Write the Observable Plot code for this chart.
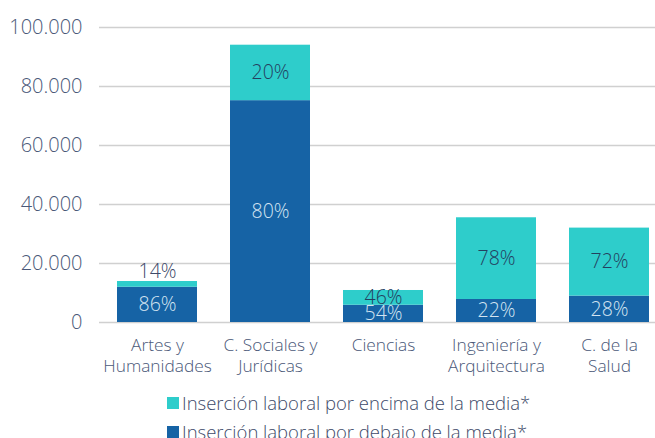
<!DOCTYPE html>
<html>
<head>
<meta charset="utf-8">
<script src="https://cdn.jsdelivr.net/npm/d3@7"></script>
<script src="https://cdn.jsdelivr.net/npm/@observablehq/plot@0.6"></script>
<style>
  html, body { margin: 0; padding: 0; background: #fff; }
  body { width: 655px; font-family: "Open Sans", sans-serif; font-weight: 300; }
  #legend { margin-left: 167px; margin-top: 8px; color: #3d4a69; font-size: 18.5px; }
  .row { display: flex; align-items: center; height: 29px; }
  .sw { width: 12px; height: 12px; margin-right: 3px; }
</style>
</head>
<body>
<div id="chart"></div>
<div id="legend"></div>
<script>
const categories = ["Artes y Humanidades", "C. Sociales y Jurídicas", "Ciencias", "Ingeniería y Arquitectura", "C. de la Salud"];
const tickLabels = ["Artes y\nHumanidades", "C. Sociales y\nJurídicas", "Ciencias", "Ingeniería y\nArquitectura", "C. de la\nSalud"];
const seriesNames = ["Inserción laboral por debajo de la media*", "Inserción laboral por encima de la media*"];
const below = [11950, 75200, 5850, 7800, 8950];
const above = [1950, 18800, 5000, 27700, 23050];
const pctBelow = [86, 80, 54, 22, 28];
const pctAbove = [14, 20, 46, 78, 72];
const yTicks = [0, 20000, 40000, 60000, 80000, 100000];
const colors = ["#1663a5", "#2ecdcb"];

const rows = [];
categories.forEach((c, i) => rows.push({cat: c, series: seriesNames[0], value: below[i]}));
categories.forEach((c, i) => rows.push({cat: c, series: seriesNames[1], value: above[i]}));

const labelsIn = [];
categories.forEach((c, i) => {
  labelsIn.push({cat: c, y: below[i] / 2, text: pctBelow[i] + "%", light: true});
  if (above[i] > 4000) labelsIn.push({cat: c, y: below[i] + above[i] / 2, text: pctAbove[i] + "%", light: false});
});
const labelsOut = [];
categories.forEach((c, i) => {
  if (above[i] <= 4000) labelsOut.push({cat: c, y: below[i] + above[i], text: pctAbove[i] + "%"});
});

const fmt = d => d3.format(",")(d).replace(/,/g, ".");
const tickMap = new Map(categories.map((c, i) => [c, tickLabels[i]]));

const chart = Plot.plot({
  width: 655,
  height: 380,
  marginLeft: 99,
  marginRight: 0,
  marginTop: 27,
  marginBottom: 58,
  style: {fontFamily: "'Open Sans', sans-serif", fontSize: "17px", fontWeight: 300, overflow: "hidden"},
  x: {domain: categories, range: [99, 667], paddingInner: 0.295, paddingOuter: 0.15, label: null},
  y: {domain: [0, 100000], range: [322, 27], label: null},
  color: {domain: seriesNames, range: colors},
  marks: [
    Plot.ruleY(yTicks, {stroke: "#d0d0d0", strokeWidth: 1.3}),
    Plot.barY(rows, {x: "cat", y: "value", fill: "series"}),
    Plot.text(labelsIn, {x: "cat", y: "y", text: "text", fill: d => d.light ? "#d3e4f1" : "#24405f", fontSize: 19.5, fontWeight: 300}),
    Plot.text(labelsOut, {x: "cat", y: "y", text: "text", fill: "#3d4a69", fontSize: 19.5, fontWeight: 300, dy: -10}),
    Plot.axisY({ticks: yTicks, tickFormat: fmt, tickSize: 0, tickPadding: 17, fontSize: 20, fill: "#4a5878", label: null}),
    Plot.axisX({tickSize: 0, tickPadding: 13, lineHeight: 1.22, fontSize: 17.3, fill: "#4a5878", tickFormat: d => tickMap.get(d), label: null})
  ]
});
document.getElementById("chart").appendChild(chart);

const legend = document.getElementById("legend");
[1, 0].forEach(i => {
  const r = document.createElement("div");
  r.className = "row";
  const sw = document.createElement("span");
  sw.className = "sw";
  sw.style.background = colors[i];
  const t = document.createElement("span");
  t.textContent = seriesNames[i];
  r.appendChild(sw); r.appendChild(t);
  legend.appendChild(r);
});
</script>
</body>
</html>
